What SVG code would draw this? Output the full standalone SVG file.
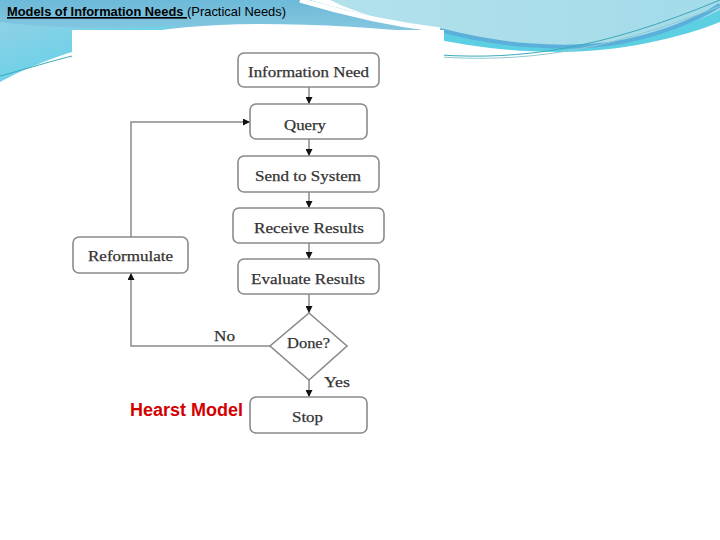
<svg xmlns="http://www.w3.org/2000/svg" width="720" height="540" viewBox="0 0 720 540">
<defs>
<linearGradient id="gTop" x1="0" y1="0" x2="0" y2="1">
<stop offset="0" stop-color="#6db9d9"/>
<stop offset="1" stop-color="#a6dbe9"/>
</linearGradient>
<linearGradient id="gLeft" x1="0" y1="0" x2="1" y2="1">
<stop offset="0" stop-color="#8fd0e6"/>
<stop offset="1" stop-color="#4fd3ea"/>
</linearGradient>
<linearGradient id="gRight" x1="0" y1="0" x2="1" y2="0">
<stop offset="0" stop-color="#bfe6ee"/>
<stop offset="1" stop-color="#a3dbe9"/>
</linearGradient>
<marker id="ah" viewBox="0 0 10 10" refX="10" refY="5" markerWidth="7" markerHeight="7" markerUnits="userSpaceOnUse" orient="auto">
<path d="M0,0 L10,5 L0,10 Z" fill="#111"/>
</marker>
<style>
.box{fill:#fff;stroke:#8a8a8a;stroke-width:1.6}
.lbl{font-family:"Liberation Serif","DejaVu Serif",serif;font-size:15px;fill:#333;text-anchor:middle;stroke:#333;stroke-width:0.25}
.con{fill:none;stroke:#8a8a8a;stroke-width:1.5}
.arr{fill:none;stroke:#8a8a8a;stroke-width:1.5;marker-end:url(#ah)}
</style>
</defs>
<rect x="0" y="0" width="720" height="540" fill="#ffffff"/>
<g id="background">
<path d="M0,0 H330 C360,15 400,25 440,32 C500,45 560,52 620,42 C670,34 700,25 720,18 V0 Z" fill="url(#gRight)"/>
<path d="M0,0 H310 C350,12 400,22 440,30 L440,34 C380,28 320,24 260,24 C160,24 80,40 0,75 Z" fill="url(#gTop)"/>
<path d="M0,22 C60,30 120,28 180,26 C100,40 40,60 0,82 Z" fill="url(#gLeft)"/>
<path d="M0,76 C30,68 60,58 90,52" fill="none" stroke="#3ba9b8" stroke-width="1"/>
<path d="M440,30 C480,42 520,48 570,48 C620,46 680,30 720,10 V22 C680,38 620,52 560,52 C510,52 470,46 440,40 Z" fill="#5ccfe3"/>
<path d="M440,30 C500,46 560,50 610,44 C660,36 700,18 720,5" fill="none" stroke="#5ab0da" stroke-width="4"/>
<path d="M440,55 C520,60 600,50 720,0" fill="none" stroke="#3ba9b8" stroke-width="1"/>
<path d="M440,57 C520,62 600,54 720,6" fill="none" stroke="#8fc9d4" stroke-width="1"/>
<path d="M300,0 C350,15 400,25 440,30" fill="none" stroke="#ffffff" stroke-width="5"/>
</g>
<rect x="72" y="30" width="372" height="438" fill="#ffffff"/>
<g id="title">
<text x="7" y="16" font-family="'Liberation Sans',Arial,sans-serif" font-size="13" fill="#000"><tspan font-weight="bold" text-decoration="underline" textLength="180" lengthAdjust="spacingAndGlyphs">Models of Information Needs </tspan><tspan textLength="99" lengthAdjust="spacingAndGlyphs">(Practical Needs)</tspan></text>
<line x1="7" y1="18" x2="187" y2="18" stroke="#000" stroke-width="1.2"/>
</g>
<g id="connectors">
<line class="arr" x1="309" y1="87" x2="309" y2="104"/>
<line class="arr" x1="309" y1="139" x2="309" y2="156"/>
<line class="arr" x1="309" y1="192" x2="309" y2="208"/>
<line class="arr" x1="309" y1="243" x2="309" y2="259"/>
<line class="arr" x1="309" y1="294" x2="309" y2="313"/>
<line class="arr" x1="309" y1="380" x2="309" y2="397"/>
<polyline class="arr" points="270,346 131,346 131,273"/>
<polyline class="arr" points="131,237 131,122 250,122"/>
</g>
<g id="n-info"><rect class="box" x="238" y="53" width="141" height="34" rx="6"/><text class="lbl" x="308.5" y="77" textLength="121" lengthAdjust="spacingAndGlyphs">Information Need</text></g>
<g id="n-query"><rect class="box" x="250" y="104" width="117" height="35" rx="6"/><text class="lbl" x="305" y="130" textLength="42" lengthAdjust="spacingAndGlyphs">Query</text></g>
<g id="n-send"><rect class="box" x="238" y="156" width="141" height="36" rx="6"/><text class="lbl" x="308" y="181" textLength="106" lengthAdjust="spacingAndGlyphs">Send to System</text></g>
<g id="n-receive"><rect class="box" x="233" y="208" width="151" height="35" rx="6"/><text class="lbl" x="309" y="233" textLength="110" lengthAdjust="spacingAndGlyphs">Receive Results</text></g>
<g id="n-evaluate"><rect class="box" x="238" y="259" width="141" height="35" rx="6"/><text class="lbl" x="308" y="284" textLength="114" lengthAdjust="spacingAndGlyphs">Evaluate Results</text></g>
<g id="n-reformulate"><rect class="box" x="73" y="237" width="115" height="36" rx="6"/><text class="lbl" x="130.5" y="261" textLength="85" lengthAdjust="spacingAndGlyphs">Reformulate</text></g>
<g id="n-done"><polygon class="box" points="309,313 347,346 309,380 270,346"/><text class="lbl" x="308.5" y="348" textLength="43" lengthAdjust="spacingAndGlyphs">Done?</text></g>
<g id="n-stop"><rect class="box" x="250" y="397" width="117" height="36" rx="6"/><text class="lbl" x="307.5" y="422" textLength="31" lengthAdjust="spacingAndGlyphs">Stop</text></g>
<g id="edge-labels">
<text class="lbl" x="224.5" y="341" textLength="21" lengthAdjust="spacingAndGlyphs">No</text>
<text class="lbl" x="337" y="387" textLength="26" lengthAdjust="spacingAndGlyphs">Yes</text>
</g>
<text x="130" y="416" font-family="'Liberation Sans',Arial,sans-serif" font-size="18" font-weight="bold" fill="#d40000" textLength="113" lengthAdjust="spacingAndGlyphs">Hearst Model</text>
</svg>
